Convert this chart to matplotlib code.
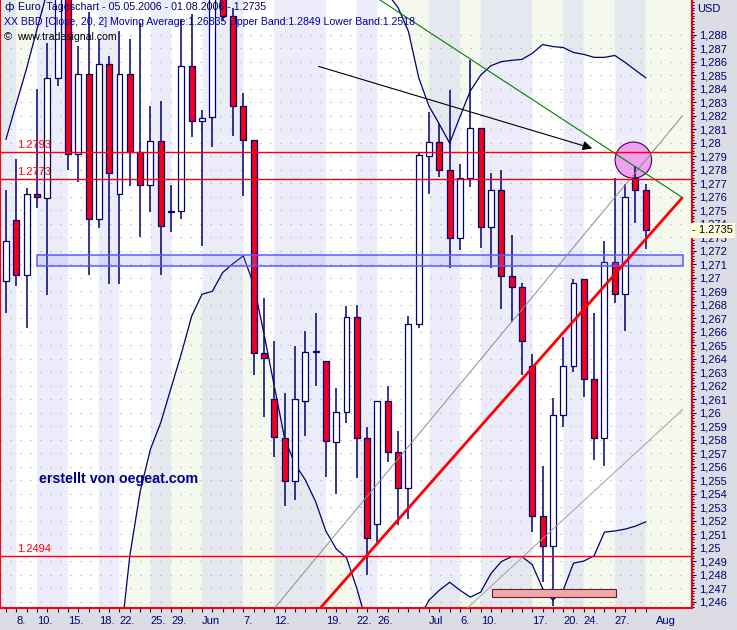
import numpy as np
import matplotlib
matplotlib.use("Agg")
import matplotlib.pyplot as plt
import matplotlib.transforms as mtransforms
from matplotlib.patches import Rectangle, Ellipse
from matplotlib.ticker import FixedLocator, MultipleLocator, FuncFormatter

# === Daten: EUR/USD Tageschart 05.05.2006 - 01.08.2006 ===
opens = [1.26978, 1.27425, 1.27018, 1.27620, 1.27592, 1.28478, 1.29100, 1.27916, 1.28506, 1.27437,
         1.28584, 1.27620, 1.28506, 1.27930, 1.27689, 1.28016, 1.27494, 1.27494, 1.28569, 1.28162,
         1.28191, 1.29120, 1.28942, 1.28274, 1.28022, 1.26439, 1.26104, 1.25812, 1.25496, 1.26087,
         1.26448, 1.26382, 1.25783, 1.26001, 1.26706, 1.25812, 1.25175, 1.26087, 1.25708, 1.25445,
         1.26657, 1.27901, 1.28005, 1.27798, 1.27294, 1.27738, 1.28105, 1.27374, 1.27652, 1.27010,
         1.26929, 1.26348, 1.25232, 1.25009, 1.25981, 1.26348, 1.26987, 1.26247, 1.25812, 1.27119,
         1.26878, 1.27738, 1.27652]
highs = [1.27652, 1.27881, 1.27666, 1.28397, 1.28741, 1.29250, 1.29300, 1.28713, 1.28971, 1.28770,
         1.28641, 1.28827, 1.28770, 1.28885, 1.28274, 1.28311, 1.27689, 1.28913, 1.28950, 1.28240,
         1.29150, 1.29180, 1.29000, 1.28369, 1.28022, 1.26849, 1.26528, 1.26147, 1.26491, 1.26603,
         1.26735, 1.26382, 1.26184, 1.26792, 1.26798, 1.25895, 1.26087, 1.26199, 1.25863, 1.26715,
         1.27933, 1.28225, 1.28139, 1.28389, 1.27841, 1.28612, 1.28105, 1.27775, 1.27801, 1.27317,
         1.26958, 1.26434, 1.25608, 1.26110, 1.26557, 1.26987, 1.26987, 1.26735, 1.27268, 1.27738,
         1.27695, 1.27824, 1.27695]
lows = [1.26735, 1.26935, 1.26626, 1.27517, 1.26869, 1.28417, 1.27795, 1.27709, 1.27021, 1.27371,
        1.26950, 1.26950, 1.27681, 1.27299, 1.27486, 1.27018, 1.27339, 1.27437, 1.28045, 1.27236,
        1.27967, 1.28900, 1.28053, 1.27603, 1.26276, 1.25969, 1.25674, 1.25310, 1.25353, 1.25829,
        1.26196, 1.25525, 1.25396, 1.25926, 1.25516, 1.24797, 1.25043, 1.25631, 1.25164, 1.25215,
        1.26626, 1.27618, 1.27747, 1.27073, 1.27202, 1.27675, 1.27222, 1.27073, 1.26769, 1.26672,
        1.26276, 1.25115, 1.24748, 1.24570, 1.25895, 1.26299, 1.26115, 1.25651, 1.25602, 1.26815,
        1.26606, 1.27408, 1.27210]
closes = [1.27271, 1.27018, 1.27623, 1.27595, 1.28478, 1.29120, 1.27916, 1.28506, 1.27437, 1.28584,
          1.27778, 1.28506, 1.27930, 1.27689, 1.28016, 1.27380, 1.27486, 1.28569, 1.28162, 1.28185,
          1.29080, 1.28942, 1.28274, 1.28022, 1.26439, 1.26402, 1.25817, 1.25496, 1.26104, 1.26448,
          1.26455, 1.25789, 1.26001, 1.26706, 1.25812, 1.25072, 1.26087, 1.25708, 1.25445, 1.26657,
          1.27910, 1.28005, 1.27798, 1.27294, 1.27738, 1.28105, 1.27374, 1.27652, 1.27010, 1.26929,
          1.26528, 1.25232, 1.25009, 1.25981, 1.26348, 1.26958, 1.26247, 1.25812, 1.27119, 1.26878,
          1.27595, 1.27652, 1.27350]

# Bollinger Bänder (20, 2) - ausserhalb des Bildes geschätzt
upper_band = [1.28025, 1.28290, 1.28550, 1.28840, 1.29120,
              1.2935, 1.2950, 1.2962, 1.2972, 1.2980, 1.2986, 1.2990, 1.2993, 1.2995, 1.2996,
              1.2996, 1.2995, 1.2994, 1.2992, 1.2990, 1.2988, 1.2987, 1.2988, 1.2990, 1.2992,
              1.2990, 1.2986, 1.2980, 1.2972, 1.2965, 1.2958, 1.2950, 1.2945, 1.2940, 1.2934,
              1.2926, 1.2918, 1.2910, 1.2900, 1.28825, 1.28481, 1.28270, 1.28137, 1.27996, 1.28193,
              1.28383, 1.28500, 1.28570, 1.28600, 1.28610, 1.28617, 1.28661, 1.28727, 1.28712, 1.28705,
              1.28668, 1.28654, 1.28632, 1.28632, 1.28646, 1.28595, 1.28537, 1.28481]
lower_band = [1.2385, 1.2390, 1.2395, 1.2398, 1.2400, 1.2402, 1.2405, 1.2408, 1.2412, 1.2416,
              1.2420, 1.24238, 1.24940, 1.25415, 1.25729, 1.25927, 1.26183, 1.26439, 1.26716, 1.26877,
              1.26899, 1.27038, 1.27104, 1.27162, 1.26950, 1.26585, 1.26197, 1.25810, 1.25620, 1.25503,
              1.25342, 1.25123, 1.24991, 1.24925, 1.24699, 1.24428, 1.24250, 1.24200, 1.24250, 1.24380,
              1.24470, 1.24611, 1.24684, 1.24743, 1.24684, 1.24633, 1.24670, 1.24808, 1.24896, 1.24933,
              1.24933, 1.24874, 1.24699, 1.24611, 1.24684, 1.24885, 1.24900, 1.24940, 1.25115, 1.25123,
              1.25137, 1.25159, 1.25191]
signal_bars = [24, 25, 26, 27, 28]

# Achsenbeschriftung (Bar-Index -> Datum)
label_pos = [1, 3, 6, 9, 11, 14, 16, 19, 23, 26, 31, 34, 36, 41, 44, 46, 51, 54, 56, 59, 63]
label_txt = ["8.", "10.", "15.", "18.", "22.", "25.", "29.", "Jun", "7.", "12.", "19.", "22.",
             "26.", "Jul", "6.", "10.", "17.", "20.", "24.", "27.", "Aug"]
section_starts = [1, 3, 6, 9, 11, 14, 16, 19, 23, 26, 31, 34, 36, 41, 44, 46, 51, 54, 56, 59, 62]
price_ticks = [1.246, 1.247, 1.248, 1.249, 1.250, 1.251, 1.252, 1.253, 1.254, 1.255, 1.256,
               1.257, 1.258, 1.259, 1.260, 1.261, 1.262, 1.263, 1.264, 1.265, 1.266, 1.267,
               1.268, 1.269, 1.270, 1.271, 1.272, 1.273, 1.274, 1.275, 1.276, 1.277, 1.278,
               1.279, 1.280, 1.281, 1.282, 1.283, 1.284, 1.285, 1.286, 1.287, 1.288]

# Zeichnungen
levels = [1.2793, 1.2773, 1.2494]
zone = (3.0, 65.6, 1.27089, 1.27170)
trend_red = [(30.4, 65.47), (1.24547, 1.27586)]
chan_up = [(26.07, 65.57), (1.24556, 1.28200)]
chan_lo = [(44.64, 65.57), (1.24547, 1.26022)]
green_line = [(34.0, 65.57), (1.29169, 1.27593)]
arrow_from = (30.04, 1.28571)
arrow_to = (57.07, 1.27952)
circle = (60.8, 1.27871, 3.54, 0.00267)
low_box = (47.06, 59.1, 1.24633, 1.24691)
last_price = 1.2735

navy = '#000070'
red = '#f4001c'
panel = '#dcdce4'
font = 'Liberation Sans'

n = len(opens)
idx = np.arange(n)
xlim = (-0.581, 66.485)
ylim = (1.245562, 1.290570)

fig = plt.figure(figsize=(7.37, 6.30), dpi=100)
fig.patch.set_facecolor(panel)
ax = fig.add_axes([0, 1 - 607.5 / 630, 692 / 737, 607.5 / 630])
ax.set_xlim(*xlim)
ax.set_ylim(*ylim)

# === Hintergrund: Wochen-Streifen, innerhalb / ausserhalb der Bänder ===
bounds = [xlim[0]] + section_starts + [xlim[1]]
for k in range(len(bounds) - 1):
    a, b = bounds[k], bounds[k + 1]
    lav = (k % 2 == 0)
    inner = '#ececfa' if lav else '#ffffff'
    outer = '#e6e8ef' if lav else '#f5f8ec'
    if a >= n - 1:
        ax.axvspan(a, b, color=outer, lw=0, zorder=0)
        continue
    xs = np.linspace(a, b, 120)
    up_i = np.interp(xs, idx, upper_band)
    lo_i = np.interp(xs, idx, lower_band)
    ax.fill_between(xs, lo_i, up_i, color=inner, lw=0, zorder=0)
    ax.fill_between(xs, up_i, 1.40, color=outer, lw=0, zorder=0)
    ax.fill_between(xs, 1.10, lo_i, color=outer, lw=0, zorder=0)

# Gitter
for p in price_ticks:
    ax.axhline(p, color='#a8a8b0', lw=0.8, ls=(0, (1, 8)), zorder=0.5)

# Bänder
ax.plot(idx, upper_band, color=navy, lw=0.9, zorder=2)
ax.plot(idx, lower_band, color=navy, lw=0.9, zorder=2)
ax.plot(signal_bars, [lower_band[i] for i in signal_bars], ls='none', marker='o',
        ms=2.2, mfc='#ffff00', mec='none', zorder=2.1)

# Kreis
ax.add_patch(Ellipse(circle[:2], circle[2], circle[3], fc='#f0a0f0', ec='#500050', lw=0.8, zorder=2.5))

# === Kerzen ===
o = np.array(opens)
c = np.array(closes)
ax.vlines(idx, lows, highs, color=navy, lw=1.1, zorder=3)
ax.bar(idx, np.abs(c - o), bottom=np.minimum(o, c), width=0.58,
       color=np.where(c >= o, '#ffffff', red), edgecolor=navy, linewidth=0.9, zorder=3.5)

# Zone
ax.add_patch(Rectangle((zone[0], zone[2]), zone[1] - zone[0], zone[3] - zone[2],
                       fc=(0.55, 0.6, 1.0, 0.22), ec='#5a5aff', lw=1.1, zorder=4))
ax.add_patch(Rectangle((low_box[0], low_box[2]), low_box[1] - low_box[0], low_box[3] - low_box[2],
                       fc='#f4a8a8', ec='#602030', lw=0.8, zorder=4))

# Linien
ax.plot(*chan_up, color='#8c8c8c', lw=0.7, zorder=4)
ax.plot(*chan_lo, color='#a0a0a0', lw=0.7, zorder=4)
ax.plot(*trend_red, color='#ff0000', lw=2.0, zorder=4.5)
ax.plot(*green_line, color='#008000', lw=0.8, zorder=4.5)
ax.annotate('', xy=arrow_to, xytext=arrow_from,
            arrowprops=dict(arrowstyle='-|>', color='black', lw=0.8, mutation_scale=14), zorder=5)

trans_x = mtransforms.blended_transform_factory(ax.transAxes, ax.transData)
for lv in levels:
    ax.axhline(lv, color='#ff0000', lw=1.0, zorder=5)
    ax.text(17 / 692, lv + 0.00012, f"{lv:.4f}", transform=trans_x, color='#ff0000',
            fontsize=8, family=font, ha='left', va='bottom', zorder=5)

ax.text(39 / 692, (607.5 - 479) / 607.5, "erstellt von oegeat.com", transform=ax.transAxes,
        fontsize=10.3, fontweight='bold', color='#000090', family=font, ha='left', va='center', zorder=6)

# === Achsen ===
for s in ['left', 'right', 'bottom']:
    ax.spines[s].set_color('#ff0000')
    ax.spines[s].set_linewidth(1.5)
ax.spines['top'].set_visible(False)

ax.yaxis.tick_right()
ax.yaxis.set_major_locator(FixedLocator(price_ticks))
ax.yaxis.set_minor_locator(MultipleLocator(0.0002))
ax.yaxis.set_major_formatter(FuncFormatter(lambda v, p: f"{v:.3f}".rstrip('0').replace('.', ',')))
ax.tick_params(axis='y', which='major', length=3, width=0.8, color=navy, labelcolor=navy,
               labelsize=8, pad=2)
ax.tick_params(axis='y', which='minor', length=1.6, width=0.8, color=navy)
for t in ax.get_yticklabels():
    t.set_family(font)

ax.set_xticks(idx)
ax.set_xticklabels([])
ax.tick_params(axis='x', length=3, width=0.8, color=navy)
trans_lbl = mtransforms.blended_transform_factory(ax.transData, ax.transAxes)
for p, t in zip(label_pos, label_txt):
    ax.text(p, -0.0222, t, transform=trans_lbl, ha='left', va='center', fontsize=8,
            family=font, color=navy, clip_on=False)

ax.text(1.0, last_price, "- " + f"{last_price:.4f}", transform=trans_x, ha='left', va='center',
        fontsize=8, family=font, color='black', zorder=10, clip_on=False,
        bbox=dict(fc='#ffffe0', ec='none', pad=1.6))

# Titel
fig.text(697 / 737, 1 - 9 / 630, "USD", fontsize=8, family=font, color=navy, ha='left', va='center')
fig.text(4 / 737, 1 - 7 / 630, "ф", fontsize=8, color=navy, ha='left', va='center')
fig.text(18 / 737, 1 - 7 / 630, "Euro, Tageschart - 05.05.2006 - 01.08.2006 - 1.2735",
         fontsize=7.7, family=font, color=navy, ha='left', va='center')
fig.text(4 / 737, 1 - 22 / 630,
         "XX BBD [Close, 20, 2] Moving Average:1.26835 Upper Band:1.2849 Lower Band:1.2518",
         fontsize=7.6, family=font, color='#0000a0', ha='left', va='center')
fig.text(4 / 737, 1 - 37 / 630, "©", fontsize=8, family=font, color='black', ha='left', va='center')
fig.text(17 / 737, 1 - 37 / 630, "www.tradesignal.com", fontsize=7.6, family=font, color='black',
         ha='left', va='center')

fig.savefig("out.png", dpi=100, facecolor=fig.get_facecolor())
